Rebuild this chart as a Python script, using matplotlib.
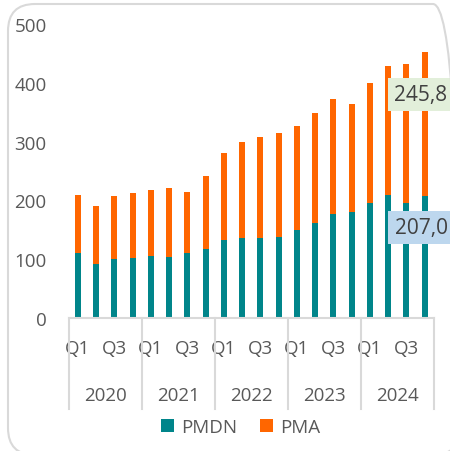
import numpy as np
import matplotlib.pyplot as plt
from matplotlib.patches import FancyBboxPatch
import matplotlib.transforms as mtransforms

plt.rcParams['font.family'] = ['Open Sans', 'DejaVu Sans']

years = ['2020', '2021', '2022', '2023', '2024']
quarters = ['Q1', 'Q2', 'Q3', 'Q4']
pmdn = [110, 92, 101, 102, 106, 104, 111, 117, 133, 136, 136, 137,
        150, 161, 177, 180, 195, 209, 196, 207.0]
total = [210, 190, 208, 213, 218, 221, 215, 241, 281, 300, 307, 314,
         327, 348, 373, 364, 400, 428, 431, 452.8]
pma = [t - d for t, d in zip(total, pmdn)]
pma[-1] = 245.8

teal = '#00858A'
orange = '#FF6600'
txt = '#595959'
fs = 13.5

fig = plt.figure(figsize=(4.5, 4.52), dpi=100)
ax = fig.add_axes([0.153, 0.294, 0.811, 0.651])

x = np.arange(len(pmdn))
ax.bar(x, pmdn, width=0.33, color=teal, label='PMDN')
ax.bar(x, pma, width=0.33, bottom=pmdn, color=orange, label='PMA')

ax.set_xlim(-0.5, len(x) - 0.5)
ax.set_ylim(0, 500)
ax.set_yticks(range(0, 501, 100))
ax.tick_params(axis='y', length=0, pad=16, labelsize=fs, labelcolor=txt)

# every other quarter label, like Excel does
ax.set_xticks(x[::2])
ax.set_xticklabels([quarters[i % 4] for i in x[::2]])
ax.tick_params(axis='x', length=0, pad=15, labelsize=fs, labelcolor=txt)

for s in ['top', 'right', 'left']:
    ax.spines[s].set_visible(False)
ax.spines['bottom'].set_color('#D9D9D9')
ax.spines['bottom'].set_linewidth(1.5)

# year level of the category axis
trans = mtransforms.blended_transform_factory(ax.transData, ax.transAxes)
for i, yr in enumerate(years):
    ax.text(i * 4 + 1.5, -0.262, yr, transform=trans, ha='center', va='center',
            fontsize=fs, color=txt)
for i in range(len(years) + 1):
    ax.plot([i * 4 - 0.5, i * 4 - 0.5], [0, -0.31], transform=trans,
            color='#D9D9D9', lw=1.5, clip_on=False)

# data labels on the last bar
ax.text(18.8, 380, '{:.1f}'.format(pma[-1]).replace('.', ','), ha='center', va='center',
        fontsize=15, color='#404040',
        bbox=dict(boxstyle='square,pad=0.3', fc='#E2EFDA', ec='none'), clip_on=False)
ax.text(18.8, 154, '{:.1f}'.format(pmdn[-1]).replace('.', ','), ha='center', va='center',
        fontsize=15, color='#404040',
        bbox=dict(boxstyle='square,pad=0.3', fc='#BDD7EE', ec='none'), clip_on=False)

leg = fig.legend(loc='center', bbox_to_anchor=(0.535, 0.053), ncol=2, frameon=False,
                 fontsize=fs, handlelength=0.7, handleheight=0.7, handletextpad=0.4,
                 columnspacing=1.2)
for t in leg.get_texts():
    t.set_color(txt)

border = FancyBboxPatch((8 / 450, 1 - 456 / 452), 452 / 450, 451 / 452,
                        boxstyle='round,pad=0,rounding_size=0.06',
                        transform=fig.transFigure, fc='none', ec='#D9D9D9', lw=1.5)
fig.patches.append(border)

fig.savefig('out.png', dpi=100)
